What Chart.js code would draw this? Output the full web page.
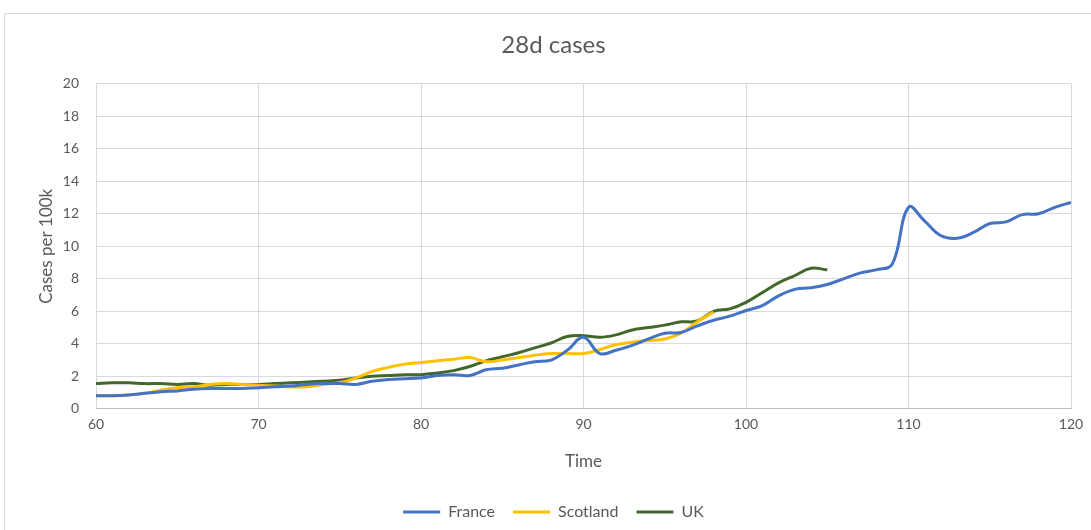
<!DOCTYPE html>
<html lang="en">
<head>
    <meta charset="UTF-8">
    <title>28d cases</title>
    <script src="https://cdn.jsdelivr.net/npm/chart.js"></script>
    <style>
        body {
            margin: 0;
            padding: 0;
            background-color: #ffffff;
            width: 1091px;
            height: 530px;
            overflow: hidden;
            position: relative;
        }
        #frame {
            position: absolute;
            left: 4px;
            top: 13px;
            width: 1100px;
            height: 540px;
            border: 1px solid #d9d9d9;
        }
        .chart-container {
            position: absolute;
            left: 0;
            top: 0;
            width: 1091px;
            height: 530px;
        }
    </style>
</head>
<body>
    <div id="frame"></div>
    <div class="chart-container">
        <canvas id="myChart"></canvas>
    </div>

    <script>
        // days since start
        const days = [60, 61, 62, 63, 64, 65, 66, 67, 68, 69, 70, 71, 72, 73, 74, 75, 76, 77, 78, 79,
            80, 81, 82, 83, 84, 85, 86, 87, 88, 89, 90, 91, 92, 93, 94, 95, 96, 97, 98, 99,
            100, 101, 102, 103, 104, 105, 106, 107, 108, 109, 110, 111, 112, 113, 114, 115, 116, 117, 118, 119, 120];

        // cases per 100k, 28 day total
        const france = [0.8, 0.8, 0.85, 0.95, 1.05, 1.1, 1.2, 1.25, 1.25, 1.25, 1.3, 1.35, 1.4, 1.5, 1.55, 1.55, 1.5, 1.7, 1.8, 1.85,
            1.9, 2.05, 2.1, 2.05, 2.4, 2.5, 2.7, 2.9, 3.0, 3.6, 4.4, 3.4, 3.6, 3.9, 4.3, 4.65, 4.7, 5.1, 5.45, 5.7,
            6.05, 6.35, 6.95, 7.35, 7.45, 7.65, 8.0, 8.35, 8.55, 8.9, 12.4, 11.55, 10.65, 10.5, 10.85, 11.4, 11.5, 11.95, 12.0, 12.4, 12.7];
        const scotland = [0.8, 0.8, 0.85, 0.95, 1.15, 1.3, 1.35, 1.5, 1.55, 1.5, 1.45, 1.4, 1.35, 1.35, 1.5, 1.6, 1.9, 2.3, 2.55, 2.75,
            2.85, 2.95, 3.05, 3.15, 2.9, 3.0, 3.15, 3.3, 3.4, 3.4, 3.4, 3.65, 3.95, 4.1, 4.2, 4.3, 4.65, 5.35, 5.95];
        const uk = [1.55, 1.6, 1.6, 1.55, 1.55, 1.5, 1.55, 1.45, 1.5, 1.5, 1.5, 1.55, 1.6, 1.65, 1.7, 1.75, 1.9, 2.0, 2.05, 2.1,
            2.1, 2.2, 2.35, 2.6, 2.95, 3.2, 3.45, 3.75, 4.05, 4.45, 4.5, 4.4, 4.55, 4.85, 5.0, 5.15, 5.35, 5.4, 6.0, 6.15,
            6.55, 7.15, 7.75, 8.2, 8.65, 8.55];

        const seriesNames = ['France', 'Scotland', 'UK'];
        const seriesColors = ['#4472c4', '#ffc000', '#43682b'];

        const fontFamily = "Lato, 'Open Sans', sans-serif";
        const textColor = '#595959';

        function toPoints(values) {
            return values.map((v, i) => ({ x: days[i], y: v }));
        }

        const datasets = [france, scotland, uk].map((values, i) => ({
            label: seriesNames[i],
            data: toPoints(values),
            borderColor: seriesColors[i],
            backgroundColor: seriesColors[i],
            borderWidth: 3,
            pointRadius: 0,
            tension: 0.4,
            fill: false
        }));

        const ctx = document.getElementById('myChart').getContext('2d');
        new Chart(ctx, {
            type: 'line',
            data: { datasets: datasets },
            options: {
                responsive: true,
                maintainAspectRatio: false,
                animation: false,
                layout: {
                    padding: { left: 36, right: 20, top: 31, bottom: 0 }
                },
                scales: {
                    x: {
                        type: 'linear',
                        min: 60,
                        max: 120,
                        ticks: {
                            stepSize: 10,
                            color: textColor,
                            font: { family: fontFamily, size: 14 },
                            padding: 7
                        },
                        grid: { color: '#d9d9d9', drawTicks: false },
                        border: { color: '#bfbfbf' },
                        title: {
                            display: true,
                            text: 'Time',
                            color: textColor,
                            font: { family: fontFamily, size: 17 },
                            padding: { top: 12, bottom: 14 }
                        }
                    },
                    y: {
                        min: 0,
                        max: 20,
                        // keep the axis band fixed so the plot starts at x=96
                        afterFit: (scale) => { scale.width = 60; },
                        ticks: {
                            stepSize: 2,
                            color: textColor,
                            font: { family: fontFamily, size: 14 },
                            padding: 17
                        },
                        grid: { color: '#d9d9d9', drawTicks: false },
                        border: { display: false },
                        title: {
                            display: true,
                            text: 'Cases per 100k',
                            color: textColor,
                            font: { family: fontFamily, size: 17 },
                            padding: { top: 0, bottom: 9 }
                        }
                    }
                },
                plugins: {
                    title: {
                        display: true,
                        text: '28d cases',
                        color: textColor,
                        font: { family: fontFamily, size: 24, weight: 'normal' },
                        padding: { top: 0, bottom: 24 }
                    },
                    legend: {
                        position: 'bottom',
                        labels: {
                            color: textColor,
                            font: { family: fontFamily, size: 16 },
                            boxWidth: 37,
                            boxHeight: 0,
                            padding: 18
                        }
                    },
                    tooltip: { enabled: false }
                }
            }
        });
    </script>
</body>
</html>
